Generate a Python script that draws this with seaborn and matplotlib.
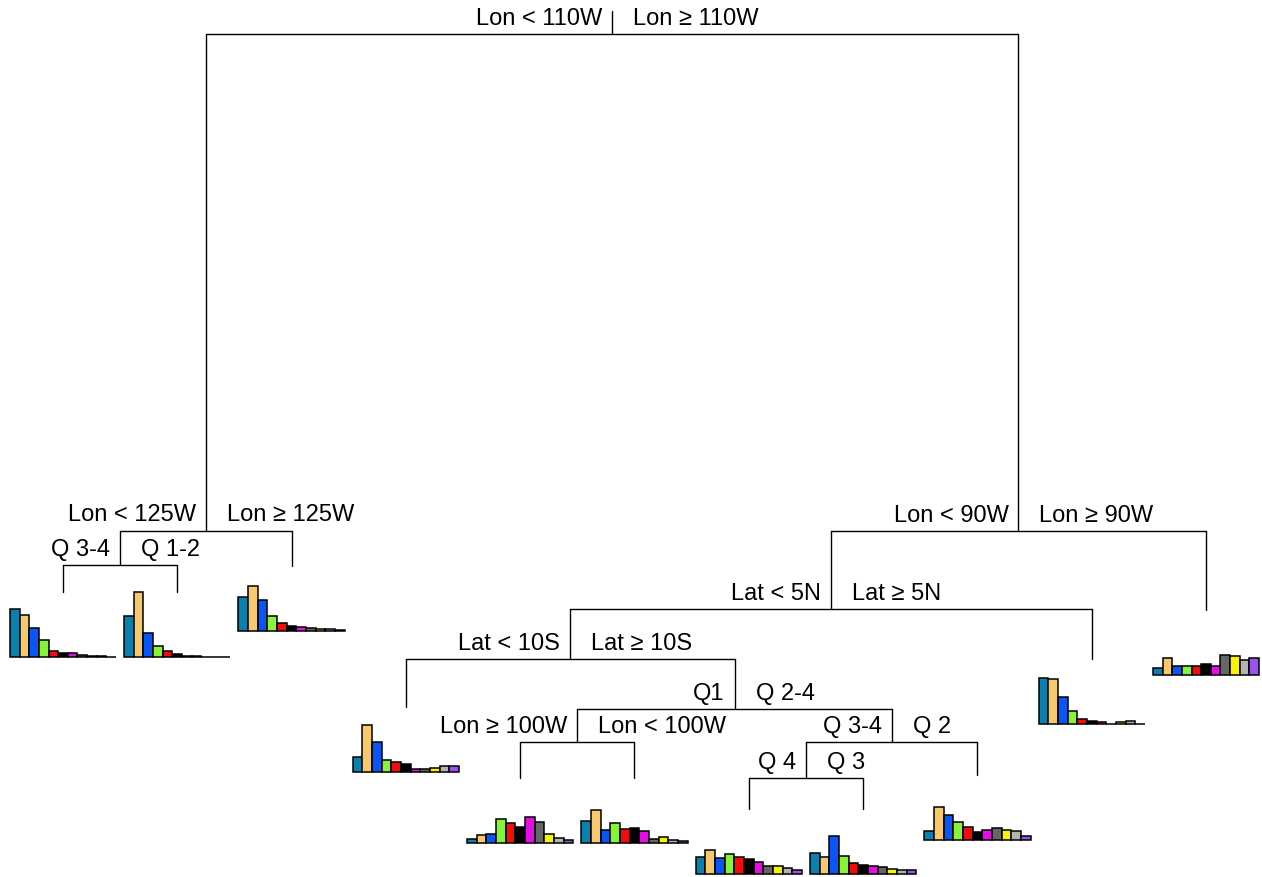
import numpy as np
import pandas as pd
import matplotlib
matplotlib.use("Agg")
import matplotlib.pyplot as plt
import seaborn as sns

# ---------------- data ----------------
classes = ["k1", "k2", "k3", "k4", "k5", "k6", "k7", "k8", "k9", "k10", "k11"]
class_colors = ["#0A80AE", "#F8C96C", "#0A55F5", "#86F53A", "#F20C0C", "#000000",
                "#E40EE4", "#666666", "#F7F20A", "#B4B4B4", "#9A52EE"]

# class composition (%) for each terminal node, left to right
leaf_q34_w125 = [32.0, 28.0, 19.3, 11.3, 4.3, 2.7, 2.7, 1.3, 0.7, 0.7, 0.3]
leaf_q12_w125 = [27.1, 43.3, 16.0, 7.5, 4.2, 2.0, 0.8, 0.5, 0.3, 0.2, 0.1]
leaf_ge125w = [22.5, 30.0, 20.7, 9.8, 5.5, 3.5, 2.9, 2.2, 1.5, 1.1, 0.7]
leaf_lt10s = [10.2, 31.1, 20.0, 8.2, 6.5, 5.5, 1.8, 2.2, 2.9, 3.8, 3.8]
leaf_q1_ge100w = [2.5, 5.1, 6.2, 15.8, 13.5, 10.7, 17.3, 14.2, 6.2, 3.5, 1.8]
leaf_q1_lt100w = [14.5, 21.8, 8.7, 13.3, 9.5, 10.0, 8.0, 2.9, 3.8, 2.0, 1.5]
leaf_q4 = [11.1, 15.8, 10.5, 13.3, 11.3, 10.2, 7.8, 5.3, 5.3, 3.8, 2.5]
leaf_q3 = [13.8, 11.5, 25.5, 11.8, 7.3, 6.0, 5.1, 4.7, 3.1, 2.9, 2.5]
leaf_q2 = [6.0, 22.2, 16.9, 11.8, 8.9, 5.5, 6.5, 7.8, 6.9, 5.8, 2.9]
leaf_ge5n = [30.7, 30.2, 17.8, 8.9, 3.5, 2.0, 1.5, 0.2, 1.1, 2.0, 0.2]
leaf_ge90w = [4.9, 11.5, 5.8, 5.8, 5.8, 7.3, 6.0, 13.3, 12.7, 9.8, 11.1]

leaf_names = ["L1", "L2", "L3", "L4", "L5", "L6", "L7", "L8", "L9", "L10", "L11"]
leaf_values = [leaf_q34_w125, leaf_q12_w125, leaf_ge125w, leaf_lt10s, leaf_q1_ge100w,
               leaf_q1_lt100w, leaf_q4, leaf_q3, leaf_q2, leaf_ge5n, leaf_ge90w]
# depth (deviance scale, drawn downward) at which each leaf branch ends
leaf_depth = [593, 593, 567, 708, 779, 779, 810, 810, 776, 660, 611]

# internal splits: name -> (left child, right child, depth, left label, right label)
split_names = ["root", "A", "C", "B", "D", "E", "F", "G", "H", "I"]
split_left = ["A", "C", "L1", "D", "E", "L4", "G", "L5", "I", "L7"]
split_right = ["B", "L3", "L2", "L11", "L10", "F", "H", "L6", "L9", "L8"]
split_depth = [35, 531.5, 566, 532, 610, 660, 710, 743, 743, 779]
split_left_label = ["Lon < 110W", "Lon < 125W", "Q 3-4", "Lon < 90W", "Lat < 5N",
                    "Lat < 10S", "Q1", "Lon ≥ 100W", "Q 3-4", "Q 4"]
split_right_label = ["Lon ≥ 110W", "Lon ≥ 125W", "Q 1-2", "Lon ≥ 90W", "Lat ≥ 5N",
                     "Lat ≥ 10S", "Q 2-4", "Lon < 100W", "Q 2", "Q 3"]
root_stub_top = 12

# ---------------- style ----------------
sns.set_theme(style="white")
plt.rcParams["font.family"] = ["Liberation Sans", "DejaVu Sans"]

W, H, DPI = 1262, 878, 100
fig = plt.figure(figsize=(W / DPI, H / DPI), dpi=DPI)
fig.patch.set_facecolor("white")
ax = fig.add_axes([0, 0, 1, 1])
ax.set_axis_off()

leaf_gap_px = 114.3
first_leaf_px = 63
ax.set_xlim(-first_leaf_px / leaf_gap_px, (W - first_leaf_px) / leaf_gap_px)
ax.set_ylim(H, 0)

# ---------------- tree geometry ----------------
xpos = {name: float(i) for i, name in enumerate(leaf_names)}
ypos = {name: d for name, d in zip(leaf_names, leaf_depth)}
splits = {n: (l, r, d, ll, rl) for n, l, r, d, ll, rl in
          zip(split_names, split_left, split_right, split_depth,
              split_left_label, split_right_label)}


def resolve(name):
    if name in xpos:
        return xpos[name]
    l, r, d, _, _ = splits[name]
    x = (resolve(l) + resolve(r)) / 2
    xpos[name] = x
    ypos[name] = d
    return x


resolve("root")

LW = 1.0
TEXT_KW = dict(fontsize=17, color="black", va="center")
px2pt = 72 / DPI

# root stub
ax.plot([xpos["root"], xpos["root"]], [root_stub_top, ypos["root"]], color="black", lw=LW)

for n in split_names:
    l, r, d, ll, rl = splits[n]
    x = xpos[n]
    ax.plot([xpos[l], xpos[r]], [d, d], color="black", lw=LW)
    for c in (l, r):
        ax.plot([xpos[c], xpos[c]], [d, ypos[c]], color="black", lw=LW)
    ax.annotate(ll, xy=(x, d - 16), xytext=(-10 * px2pt, 0), textcoords="offset points",
                ha="right", **TEXT_KW)
    ax.annotate(rl, xy=(x, d - 16), xytext=(21 * px2pt, 0), textcoords="offset points",
                ha="left", **TEXT_KW)

# ---------------- leaf bar charts ----------------
global_max = max(max(v) for v in leaf_values)
bar_height_px = 65
bar_span = 0.93
fig.canvas.draw()
to_fig = fig.transFigure.inverted()

for name, vals in zip(leaf_names, leaf_values):
    x = xpos[name]
    base = ypos[name] + bar_height_px
    p0 = to_fig.transform(ax.transData.transform((x - bar_span / 2, base)))
    p1 = to_fig.transform(ax.transData.transform((x + bar_span / 2, base - bar_height_px)))
    iax = fig.add_axes([p0[0], p0[1], p1[0] - p0[0], p1[1] - p0[1]])
    df = pd.DataFrame({"cls": classes, "pct": vals})
    sns.barplot(data=df, x="cls", y="pct", hue="cls", palette=class_colors,
                order=classes, hue_order=classes, legend=False, width=1.0,
                edgecolor="black", linewidth=1.1, ax=iax, saturation=1)
    for p in iax.patches:
        p.set_clip_on(False)
    iax.set_xlim(-0.5, len(classes) - 0.5)
    iax.set_ylim(0, global_max)
    iax.set_axis_off()
    iax.patch.set_alpha(0)

fig.savefig("out.png", dpi=DPI, facecolor="white")
